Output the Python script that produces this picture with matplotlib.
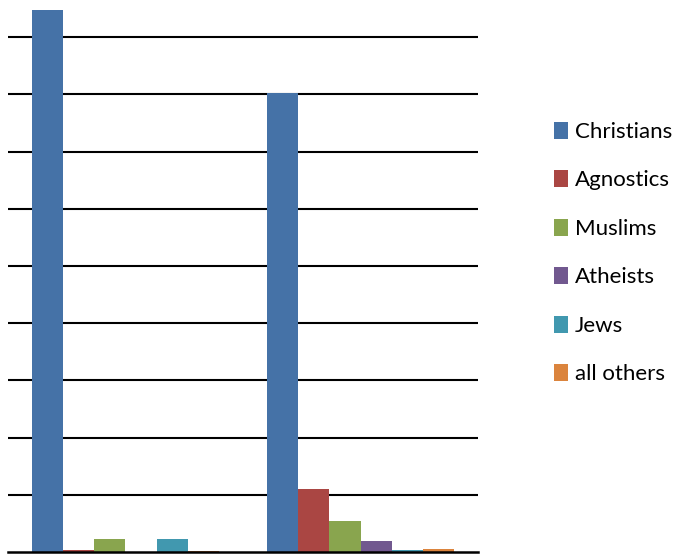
import matplotlib
matplotlib.use("Agg")
import matplotlib.pyplot as plt
from matplotlib.patches import Patch
import numpy as np

groups = ["Group 1", "Group 2"]
religions = ["Christians", "Agnostics", "Muslims", "Atheists", "Jews", "all others"]
colors = ["#4572A7", "#AA4643", "#89A54E", "#71588F", "#4198AF", "#DB843D"]
group1 = [9.48, 0.03, 0.22, 0.0, 0.23, 0.02]
group2 = [8.02, 1.10, 0.55, 0.19, 0.03, 0.06]

plt.rcParams["font.family"] = ["Lato", "DejaVu Sans"]

fig = plt.figure(figsize=(6.87, 5.54), dpi=100)
ax = fig.add_axes([8 / 687, 2 / 554, 470 / 687, 552 / 554])

x = np.arange(len(groups))
n = len(religions)
width = 0.8 / n
values = np.array([group1, group2])
for i, (name, color) in enumerate(zip(religions, colors)):
    ax.bar(x - 0.4 + width * (i + 0.5), values[:, i], width, color=color,
           edgecolor="none", zorder=3)

ax.set_xlim(-0.5, 1.5)
ax.set_ylim(0, 552 / 57.2)
for yv in range(1, 10):
    ax.axhline(yv, color="black", linewidth=1.5, zorder=1)
for side in ["left", "right", "top"]:
    ax.spines[side].set_visible(False)
ax.spines["bottom"].set_linewidth(1.8)
ax.spines["bottom"].set_zorder(4)
ax.set_xticks([])
ax.set_yticks([])

handles = [Patch(facecolor=c, edgecolor="none") for c in colors]
fig.legend(handles, religions, loc="center left", bbox_to_anchor=(554 / 687, 1 - 253 / 554),
           frameon=False, fontsize=16, handlelength=0.65, handleheight=0.8,
           handletextpad=0.3, labelspacing=1.27, borderpad=0, borderaxespad=0)

fig.savefig("out.png", dpi=100)
